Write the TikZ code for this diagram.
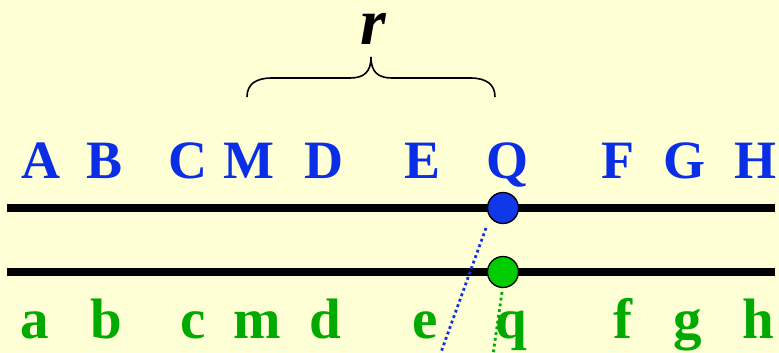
\documentclass[tikz,border=0pt]{standalone}
\usepackage{fontspec}
\setmainfont{Liberation Serif}
\definecolor{bgyellow}{RGB}{255,255,213}
\definecolor{capblue}{RGB}{10,45,230}
\definecolor{lowgreen}{RGB}{0,170,0}
\definecolor{dotblue}{RGB}{20,50,220}
\definecolor{ballblue}{RGB}{16,55,232}
\definecolor{ballgreen}{RGB}{0,204,0}
\begin{document}
\begin{tikzpicture}[x=1pt,y=-1pt,
  upletter/.style={text=capblue,font=\fontsize{54}{54}\selectfont\bfseries,anchor=base,inner sep=0pt},
  lowletter/.style={text=lowgreen,font=\fontsize{57}{57}\selectfont\bfseries,anchor=base,inner sep=0pt},
  rail/.style={line width=8pt,black},
  ball/.style={circle,draw=black,line width=1.3pt,minimum size=31pt,inner sep=0pt},
  dotline/.style={line width=2.8pt,dash pattern=on 2.8pt off 3pt}]
\fill[bgyellow] (0,0) rectangle (779,353);
\useasboundingbox (0,0) rectangle (779,353);
% rails
\coordinate (t1) at (7,208); \coordinate (t2) at (775,208);
\coordinate (b1) at (7,272); \coordinate (b2) at (775,272);
\draw[rail] (t1) -- (t2);
\draw[rail] (b1) -- (b2);
% capital letters
\node[upletter] (A) at (41,178) {A};
\node[upletter] (B) at (105,178) {B};
\node[upletter] (C) at (188,178) {C};
\node[upletter] (M) at (249,178) {M};
\node[upletter] (D) at (324,178) {D};
\node[upletter] (E) at (423,178) {E};
\node[upletter] (Q) at (507,178) {Q};
\node[upletter] (F) at (618,178) {F};
\node[upletter] (G) at (684,178) {G};
\node[upletter] (H) at (755,178) {H};
% lowercase letters
\node[lowletter] (a) at (35,338) {a};
\node[lowletter] (b) at (106,338) {b};
\node[lowletter] (c) at (193,338) {c};
\node[lowletter] (m) at (257,338) {m};
\node[lowletter] (d) at (325,338) {d};
\node[lowletter] (e) at (425,338) {e};
\node[lowletter] (q) at (511,338) {q};
\node[lowletter] (f) at (623,338) {f};
\node[lowletter] (g) at (688,338) {g};
\node[lowletter] (h) at (758,338) {h};
% dotted lines
\coordinate (bd1) at (486,228); \coordinate (bd2) at (440,355);
\coordinate (gd1) at (502,292); \coordinate (gd2) at (493,355);
\draw[dotline,dotblue] (bd1) -- (bd2);
\draw[dotline,lowgreen] (gd1) -- (gd2);
% balls
\node[ball,fill=ballblue] (P1) at (503,208) {};
\node[ball,fill=ballgreen] (P2) at (503,272) {};
% brace
\coordinate (bl) at (247,97); \coordinate (tip) at (371,57); \coordinate (br) at (495,97);
\draw[line width=1.6pt,black] (bl) .. controls (247,84) and (256,78) .. (272,78)
  -- (350,78) .. controls (364,78) and (371,72) .. (tip)
  .. controls (371,72) and (378,78) .. (392,78)
  -- (470,78) .. controls (486,78) and (495,84) .. (br);
\node[anchor=base,inner sep=0pt,text height=30pt,font=\fontsize{66}{66}\selectfont\bfseries\itshape] (r) at (373,45) {r};
\end{tikzpicture}
\end{document}
